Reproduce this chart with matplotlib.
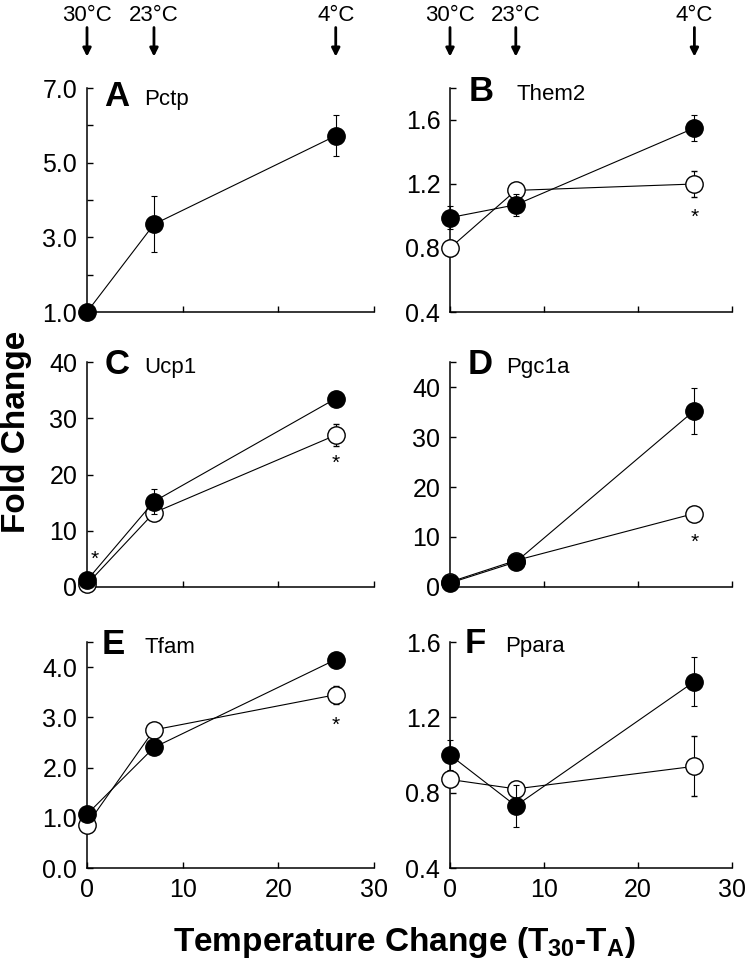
import matplotlib
matplotlib.use("Agg")
import matplotlib.pyplot as plt
import numpy as np

plt.rcParams["font.family"] = ["Liberation Sans", "DejaVu Sans"]
plt.rcParams["mathtext.fontset"] = "custom"
plt.rcParams["mathtext.rm"] = "Liberation Sans:bold"
plt.rcParams["mathtext.default"] = "rm"

# ========================================
# Datos
# ========================================
temp_change = [0, 7, 26]
temp_labels = ["30°C", "23°C", "4°C"]

paneles = ["A", "B", "C", "D", "E", "F"]
genes = ["Pctp", "Them2", "Ucp1", "Pgc1a", "Tfam", "Ppara"]

lleno_A = [1.0, 3.35, 5.72]
lleno_A_err = [0.0, 0.75, 0.55]

lleno_B = [0.99, 1.07, 1.55]
lleno_B_err = [0.07, 0.07, 0.08]
vacio_B = [0.80, 1.16, 1.20]
vacio_B_err = [0.05, 0.03, 0.08]

lleno_C = [1.2, 15.2, 33.5]
lleno_C_err = [0.5, 2.2, 0.8]
vacio_C = [0.5, 13.2, 27.0]
vacio_C_err = [0.3, 1.2, 1.9]

lleno_D = [0.8, 5.0, 35.3]
lleno_D_err = [0.3, 0.6, 4.6]
vacio_D = [1.0, 5.3, 14.7]
vacio_D_err = [0.3, 0.5, 0.7]

lleno_E = [1.07, 2.40, 4.15]
lleno_E_err = [0.05, 0.10, 0.07]
vacio_E = [0.86, 2.75, 3.45]
vacio_E_err = [0.05, 0.05, 0.18]

lleno_F = [1.00, 0.73, 1.39]
lleno_F_err = [0.08, 0.11, 0.13]
vacio_F = [0.87, 0.82, 0.94]
vacio_F_err = [0.03, 0.03, 0.16]

llenos = [lleno_A, lleno_B, lleno_C, lleno_D, lleno_E, lleno_F]
llenos_err = [lleno_A_err, lleno_B_err, lleno_C_err, lleno_D_err, lleno_E_err, lleno_F_err]
vacios = [None, vacio_B, vacio_C, vacio_D, vacio_E, vacio_F]
vacios_err = [None, vacio_B_err, vacio_C_err, vacio_D_err, vacio_E_err, vacio_F_err]

# ejes y: limites, ticks y etiquetas
y_lims = [(1, 7), (0.4, 1.8), (0, 40), (0, 45), (0, 4.5), (0.4, 1.6)]
y_ticks = [
    [1, 2, 3, 4, 5, 6, 7],
    [0.4, 0.8, 1.2, 1.6, 1.8],
    [0, 10, 20, 30, 40],
    [0, 10, 20, 30, 40, 45],
    [0, 1, 2, 3, 4, 4.5],
    [0.4, 0.8, 1.2, 1.6],
]
y_ticklabels = [
    ["1.0", "", "3.0", "", "5.0", "", "7.0"],
    ["0.4", "0.8", "1.2", "1.6", ""],
    ["0", "10", "20", "30", "40"],
    ["0", "10", "20", "30", "40", ""],
    ["0.0", "1.0", "2.0", "3.0", "4.0", ""],
    ["0.4", "0.8", "1.2", "1.6"],
]

# asteriscos (x, y) por panel
asteriscos = [
    [],
    [(26, 0.99)],
    [(0.8, 5.0), (26, 22.0)],
    [(26, 9.0)],
    [(26, 2.85)],
    [],
]

# ========================================
# Figura
# ========================================
W, H = 747, 966
fig = plt.figure(figsize=(W / 100, H / 100), dpi=100)

col_px = [(87, 374), (450, 732)]
row_px = [(88, 312), (362, 587), (642, 868)]

# posicion de letra y nombre de gen (fraccion de ejes)
letra_pos = [(0.06, 0.96), (0.065, 0.985), (0.06, 0.99),
             (0.062, 0.99), (0.05, 0.99), (0.053, 0.995)]
gen_pos = [(0.2, 0.95), (0.235, 0.97), (0.2, 0.975),
           (0.2, 0.975), (0.2, 0.975), (0.195, 0.98)]

ejes = []
for i in range(6):
    fila, col = divmod(i, 2)
    x0, x1 = col_px[col]
    y0, y1 = row_px[fila]
    ax = fig.add_axes([x0 / W, 1 - y1 / H, (x1 - x0) / W, (y1 - y0) / H])
    ejes.append(ax)

    if vacios[i] is not None:
        ax.errorbar(temp_change, vacios[i], yerr=vacios_err[i], fmt="-o",
                    color="black", mfc="white", mec="black", ms=12.5, mew=1.0,
                    lw=0.8, elinewidth=0.8, capsize=2, capthick=0.8,
                    clip_on=False, zorder=3)
    ax.errorbar(temp_change, llenos[i], yerr=llenos_err[i], fmt="-o",
                color="black", mfc="black", mec="black", ms=12.5,
                lw=0.8, elinewidth=0.8, capsize=2, capthick=0.8,
                clip_on=False, zorder=4)

    ax.set_xlim(0, 30)
    ax.set_ylim(*y_lims[i])
    ax.set_xticks([0, 10, 20, 30])
    ax.set_yticks(y_ticks[i])
    ax.set_yticklabels(y_ticklabels[i])
    if fila < 2:
        ax.set_xticklabels([])

    ax.spines["top"].set_visible(False)
    ax.spines["right"].set_visible(False)
    ax.spines["left"].set_linewidth(1.1)
    ax.spines["bottom"].set_linewidth(1.1)
    ax.tick_params(direction="in", length=4, width=1, labelsize=18, pad=7)

    ax.text(letra_pos[i][0], letra_pos[i][1], paneles[i], transform=ax.transAxes,
            fontsize=25, fontweight="bold", ha="left", va="center")
    ax.text(gen_pos[i][0], gen_pos[i][1], genes[i], transform=ax.transAxes,
            fontsize=16, ha="left", va="center")

    for (ax_x, ax_y) in asteriscos[i]:
        ax.text(ax_x, ax_y, "*", fontsize=15, ha="center", va="center")

# flechas de temperatura arriba
for ax in ejes[:2]:
    for t, lab in zip(temp_change, temp_labels):
        ax.annotate("", xy=(t, 1.14), xytext=(t, 1.27),
                    xycoords=("data", "axes fraction"),
                    textcoords=("data", "axes fraction"),
                    arrowprops=dict(arrowstyle="-|>", color="black", lw=2.0,
                                    mutation_scale=12, shrinkA=0, shrinkB=0),
                    annotation_clip=False)
        ax.text(t, 1.325, lab, transform=ax.get_xaxis_transform(),
                fontsize=16, ha="center", va="center", clip_on=False)

fig.text(17 / W, 1 - 432 / H, "Fold Change", rotation=90, fontsize=24,
         fontweight="bold", ha="center", va="center")
fig.text(404 / W, 1 - 942 / H, "Temperature Change (T$_{30}$-T$_{A}$)",
         fontsize=24, fontweight="bold", ha="center", va="center")

plt.savefig("out.png", dpi=100)
plt.close()
